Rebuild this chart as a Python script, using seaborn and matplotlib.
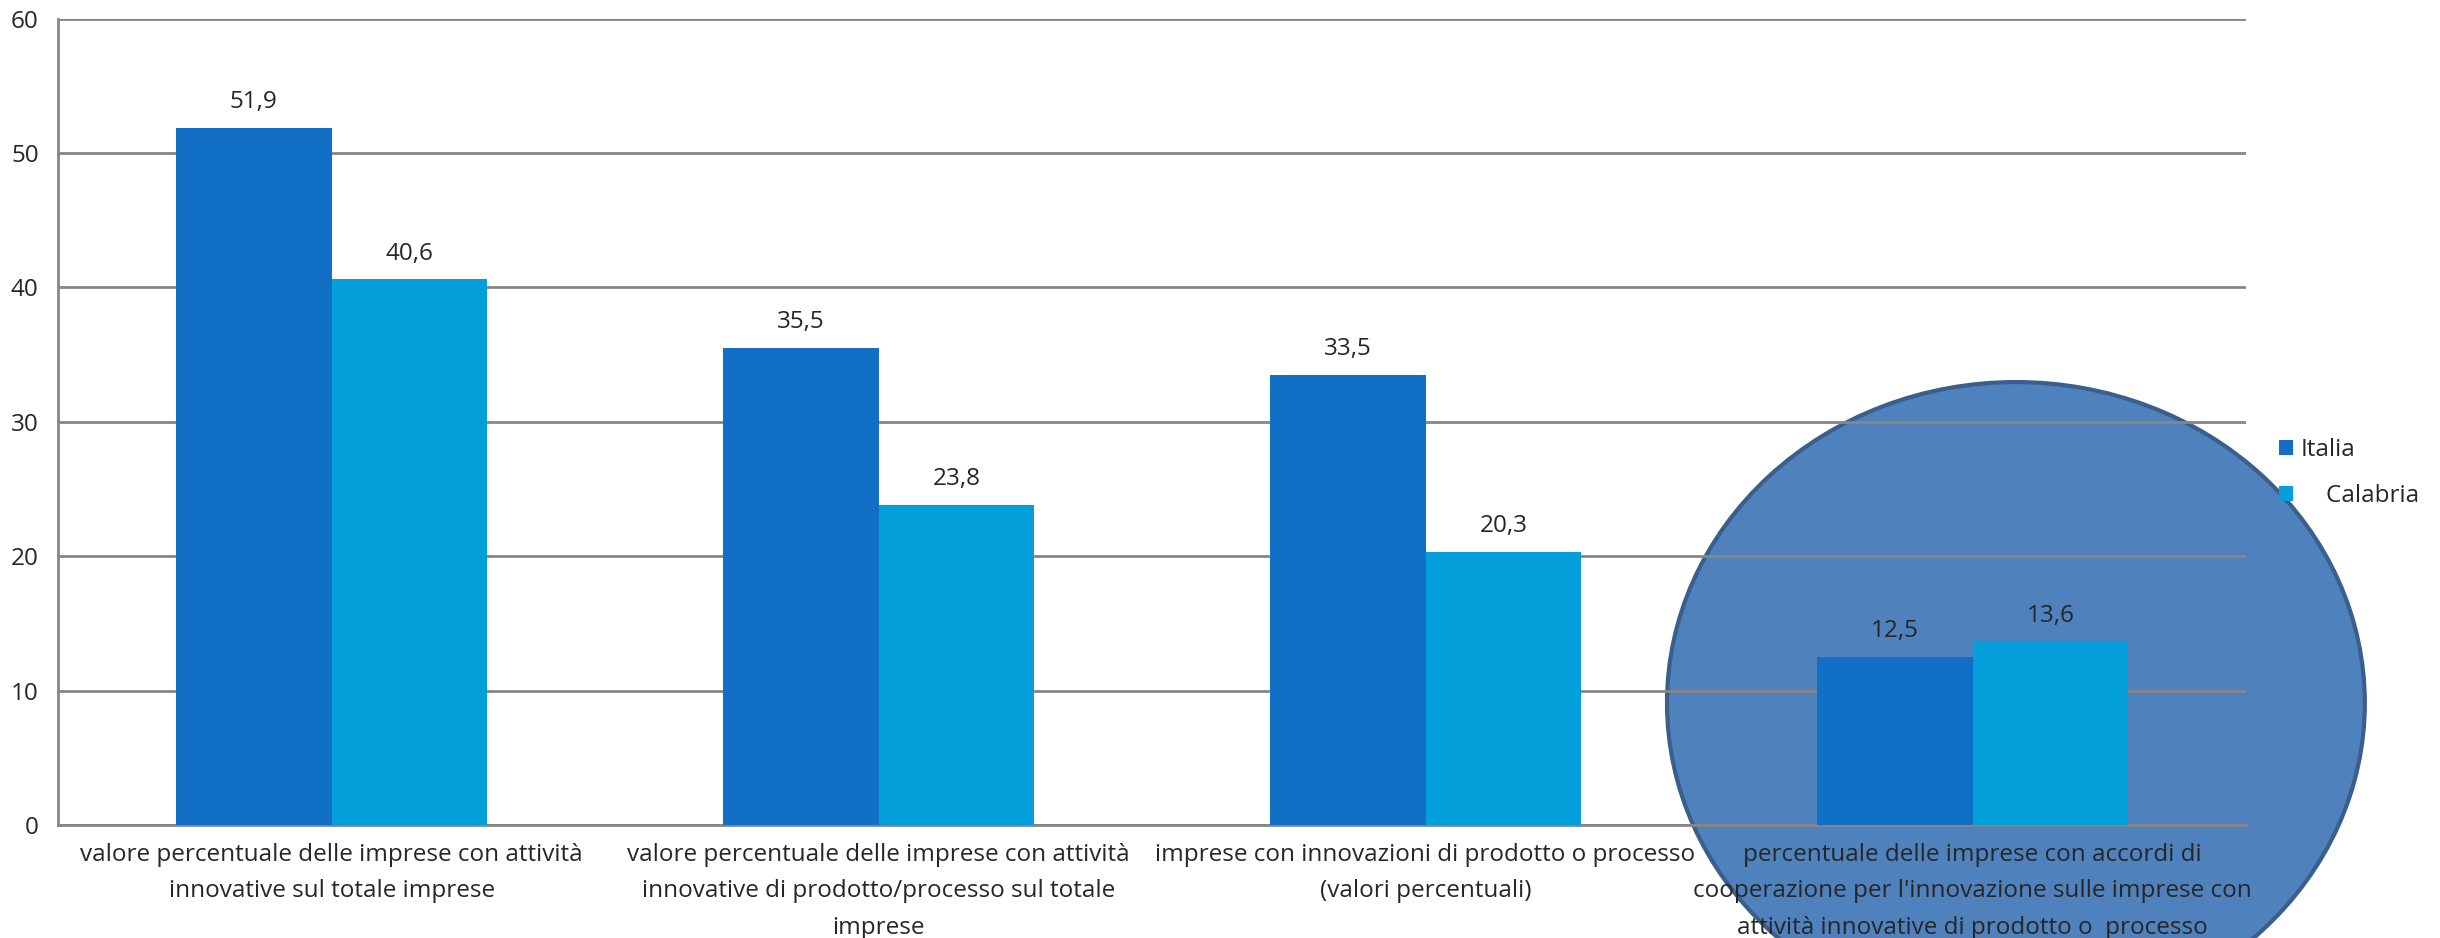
import pandas as pd
import numpy as np
import seaborn as sns
import matplotlib.pyplot as plt
from matplotlib.patches import Ellipse

# data
categories = [
    "valore percentuale delle imprese con attività\ninnovative sul totale imprese",
    "valore percentuale delle imprese con attività\ninnovative di prodotto/processo sul totale\nimprese",
    "imprese con innovazioni di prodotto o processo\n(valori percentuali)",
    "percentuale delle imprese con accordi di\ncooperazione per l'innovazione sulle imprese con\nattività innovative di prodotto o  processo",
]
italia = [51.9, 35.5, 33.5, 12.5]
calabria = [40.6, 23.8, 20.3, 13.6]
series = ["Italia", "Calabria"]
colors = ["#1170C6", "#039FDB"]

df = pd.DataFrame({
    "cat": categories * 2,
    "val": italia + calabria,
    "serie": [series[0]] * 4 + [series[1]] * 4,
})

sns.set_style("white")
plt.rcParams['font.family'] = ['Open Sans', 'DejaVu Sans']
fs = 17.5

fig = plt.figure(figsize=(24.4, 9.38), dpi=100)
fig.patch.set_facecolor("white")
ax = fig.add_axes([0.0238, 0.1205, 0.8967, 0.8595])
ax.patch.set_alpha(0)

# highlight ellipse behind the last group
ell = Ellipse((0.8262, 0.2505), 0.286, 0.6844, transform=fig.transFigure,
              facecolor="#4F81BD", edgecolor="#3A5F8D", linewidth=3, zorder=-1)
fig.patches.append(ell)

sns.barplot(data=df, x="cat", y="val", hue="serie", palette=colors,
            width=0.57, saturation=1, linewidth=0, ax=ax, zorder=3)

for cont in ax.containers:
    labels = [f"{v:.1f}".replace(".", ",") for v in cont.datavalues]
    ax.bar_label(cont, labels=labels, padding=10, fontsize=fs)

ax.set_ylim(0, 60)
ax.set_xlim(-0.5, 3.5)
ax.set_yticks(range(0, 61, 10))
ax.yaxis.grid(True, color="#868686", linewidth=2)
ax.set_axisbelow(True)
for s in ["top", "right"]:
    ax.spines[s].set_visible(False)
ax.spines["left"].set_color("#868686")
ax.spines["left"].set_linewidth(2)
ax.spines["bottom"].set_color("#868686")
ax.spines["bottom"].set_linewidth(2)

ax.set_xticks(np.arange(4))
ax.set_xticklabels(categories, fontsize=fs, linespacing=1.68, va="top")
ax.tick_params(axis="x", length=0, pad=13)
ax.set_xticks(np.arange(-0.5, 4, 1), minor=True)
ax.tick_params(axis="x", which="minor", length=8, width=2, color="#868686")
ax.tick_params(axis="y", length=8, width=2, color="#868686", labelsize=fs, pad=6)
ax.set_xlabel("")
ax.set_ylabel("")

h, l = ax.get_legend_handles_labels()
ax.legend(h, ["Italia", "    Calabria"], loc="upper left",
          bbox_to_anchor=(0.925, 0.556), bbox_transform=fig.transFigure,
          frameon=False, fontsize=fs, handlelength=0.6, handleheight=0.6,
          handletextpad=0.3, labelspacing=0.9)

fig.savefig("out.png", dpi=100)
